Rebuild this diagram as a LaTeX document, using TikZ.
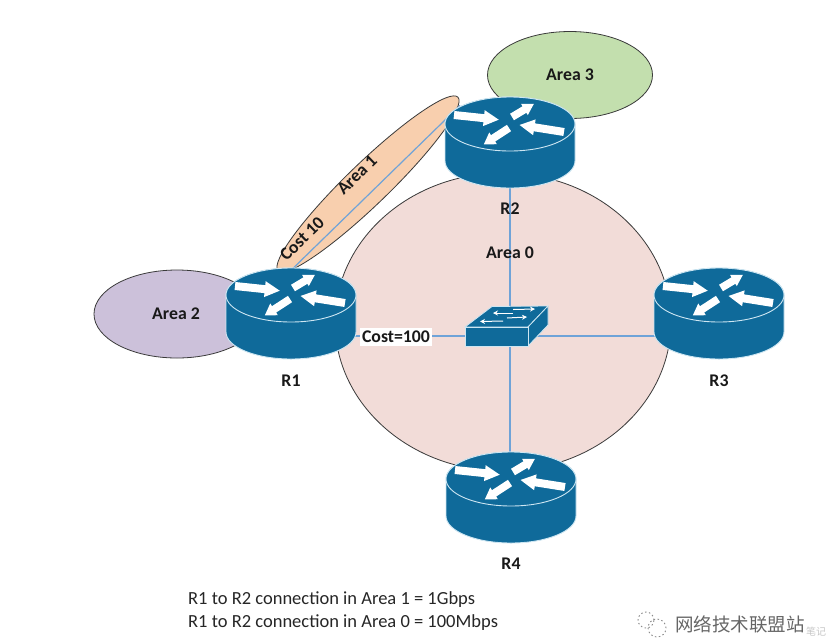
\documentclass[tikz,border=0pt]{standalone}
\usepackage{fontspec}
\usetikzlibrary{shapes.geometric,arrows.meta}
\setmainfont{Carlito}
\newfontfamily\cjkfont{Noto Sans CJK SC}
\definecolor{routerblue}{HTML}{0F6A9A}
\definecolor{routeredge}{HTML}{CDE6F2}
\definecolor{linkblue}{HTML}{6FA3D8}
\definecolor{areazero}{HTML}{F2DCD8}
\definecolor{areaone}{HTML}{F8CFAE}
\definecolor{areatwo}{HTML}{CCC1DA}
\definecolor{areathree}{HTML}{C3DFAE}
\definecolor{outlinedark}{HTML}{3A3A3A}
\tikzset{
  area/.style={draw=outlinedark,line width=0.8pt,ellipse,inner sep=0pt},
  link/.style={draw=linkblue,line width=1.2pt},
  lbl/.style={font=\bfseries\fontsize{17.8}{20}\selectfont,text=black!90,inner sep=0pt},
  note/.style={font=\fontsize{18.5}{20}\selectfont,text=black!85,inner sep=0pt,anchor=west},
  body/.style={fill=routerblue,draw=routeredge,line width=0.9pt},
  arrowpoly/.style={fill=white,draw=none},
  swarrow/.style={white,line width=1pt,-{Stealth[length=5pt,width=5pt]}}
}
\newcommand{\rarrow}[7]{% tail x,y, angle, length, half width, head half width, head length
  \fill[arrowpoly,shift={(#1,#2)},rotate=#3]
    (0,-#5)--(#4-#7,-#5)--(#4-#7,-#6)--(#4,0)--(#4-#7,#6)--(#4-#7,#5)--(0,#5)--cycle;}
\newcommand{\routerat}[1]{%
  \begin{scope}[shift={(#1)}]
    \path[body] (-65,0) -- (-65,37) arc[start angle=180,end angle=360,x radius=65,y radius=-27]
      -- (65,0) arc[start angle=0,end angle=180,x radius=65,y radius=-27] -- cycle;
    \path[body] (0,0) ellipse[x radius=65,y radius=27];
    \rarrow{-56}{-9}{-6}{45}{4}{8}{15}
    \rarrow{2}{-7}{31}{25.5}{3.8}{6.5}{11}
    \rarrow{54}{8}{171}{45}{4}{8}{15}
    \rarrow{-1}{4}{-147}{30}{3.8}{7}{11}
  \end{scope}}
\begin{document}
\begin{tikzpicture}[x=1pt,y=-1pt]
\useasboundingbox (0,0) rectangle (829,638);
\fill[white] (0,0) rectangle (829,638);
\coordinate (r1) at (291,295);
\coordinate (r2) at (510,124);
\coordinate (r3) at (719,295);
\coordinate (r4) at (511,479);
\coordinate (sw) at (510,336);
\coordinate (r1p) at (300,336);
\coordinate (r3p) at (710,336);
\coordinate (r2p) at (510,170);
\coordinate (r4p) at (510,490);
\coordinate (lka) at (280,281);
\coordinate (lkb) at (460,105.4);
% areas
\node[area,fill=areazero,minimum width=336pt,minimum height=298pt] (a0) at (503,322) {};
\node[area,fill=areaone,minimum width=250pt,minimum height=42pt,rotate=44] (a1) at (368,184) {};
\node[area,fill=areatwo,minimum width=166pt,minimum height=88pt] (a2) at (177,314) {};
\node[area,fill=areathree,minimum width=165pt,minimum height=87pt] (a3) at (570,75) {};
\node[lbl] (a2t) at (176,314) {Area 2};
\node[lbl] (a3t) at (570,75) {Area 3};
% links
\draw[link] (lka) -- (lkb);
\draw[link] (r1p) -- (sw);
\draw[link] (r2p) -- (sw);
\draw[link] (r3p) -- (sw);
\draw[link] (r4p) -- (sw);
% routers
\routerat{r1}
\routerat{r2}
\routerat{r3}
\routerat{r4}
% switch
\begin{scope}
\path[body,line width=0.8pt] (465,327) -- (492,306.5) -- (548,306) -- (528,327) -- cycle;
\path[body,line width=0.8pt] (528,327) -- (548,306) -- (548,325) -- (528,346) -- cycle;
\path[body,line width=0.8pt] (465,327) rectangle (528,346);
\draw[swarrow] (513,313) -- (493,313);
\draw[swarrow] (513,309.5) -- (535,309);
\draw[swarrow] (503,321) -- (480,321.5);
\draw[swarrow] (507,318) -- (527,317);
\end{scope}
% labels
\node[lbl] (l1) at (291,381) {R1};
\node[lbl] (l2) at (510,209) {R2};
\node[lbl] (l3) at (719,381) {R3};
\node[lbl] (l4) at (511,564) {R4};
\node[lbl] (l0) at (510,253) {Area 0};
\node[lbl,rotate=44] (l5) at (357,175) {Area 1};
\node[lbl,rotate=44] (l6) at (302,239) {Cost 10};
\node[lbl,fill=white,inner xsep=2pt,inner ysep=3pt] (l7) at (396,337) {Cost=100};
\node[note] (n1) at (188,599.5) {R1 to R2 connection in Area 1 = 1Gbps};
\node[note] (n2) at (188,622.5) {R1 to R2 connection in Area 0 = 100Mbps};
% watermark
\node[font=\cjkfont\fontsize{18.5}{20}\selectfont,text=black!60,inner sep=0pt,anchor=west] (wm) at (675,624) {网络技术联盟站};
\node[font=\cjkfont\fontsize{10}{12}\selectfont,text=black!22,inner sep=0pt,anchor=west] (wm2) at (806,632) {笔记};
\draw[black!45,line width=0.9pt,dash pattern=on 1.5pt off 2.5pt] (657,628) circle[radius=9pt];
\draw[black!45,line width=0.9pt,dash pattern=on 1.5pt off 2.5pt] (646,620) circle[radius=8pt];
\end{tikzpicture}
\end{document}
